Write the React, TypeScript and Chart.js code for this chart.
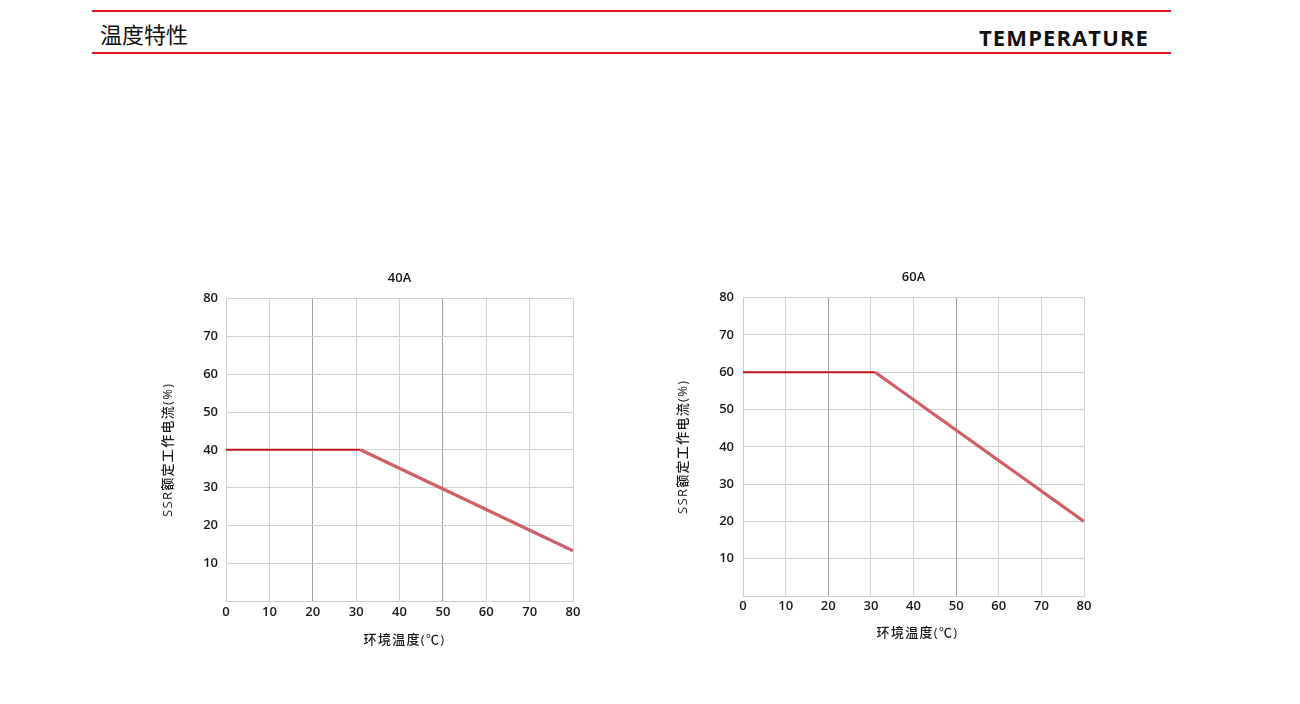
import React, { useEffect, useRef } from "react";
import { Chart, registerables } from "chart.js";

Chart.register(...registerables);

// ---- data ----
const temperatureTicks = [0, 10, 20, 30, 40, 50, 60, 70, 80];
const currentTicks = [10, 20, 30, 40, 50, 60, 70, 80];
const emphasisTemps = [20, 50];

const temps40 = [0, 31, 80];
const current40 = [40, 40, 13.3];
const temps60 = [0, 31, 80];
const current60 = [60, 60, 20];

const chartTitles = ["40A", "60A"];
const xAxisTitle = "环境温度(℃)";
const yAxisTitle = "SSR额定工作电流(%)";
const headerLeft = "温度特性";
const headerRight = "TEMPERATURE";

const FONT = "'Open Sans', 'Noto Sans CJK SC', sans-serif";
const TEXT = "#1a1a1a";

type Box = {
  left: number;
  top: number;
  width: number;
  height: number;
  yWidth: number;
  xHeight: number;
  padRight: number;
  yTitlePad: number;
  xTitlePad: number;
  xTickPad: number;
  yTickPad: number;
  xTitleShift: number;
};

// axis titles in the reference are set with a little tracking
function spaceTitle(s: any, dx: number) {
  if (s.__spaced) return;
  s.__spaced = true;
  const orig = s.drawTitle;
  s.drawTitle = function (...args: any[]) {
    const ctx = this.ctx;
    ctx.save();
    ctx.letterSpacing = "1.3px";
    ctx.translate(dx, 0);
    orig.apply(this, args);
    ctx.restore();
  };
}

function DeratingChart(props: { title: string; temps: number[]; values: number[]; box: Box }) {
  const ref = useRef<HTMLCanvasElement | null>(null);
  const { title, temps, values, box } = props;

  useEffect(() => {
    if (!ref.current) return;
    const points = temps.map((t, i) => ({ x: t, y: values[i] }));
    const chart = new Chart(ref.current, {
      type: "line",
      data: {
        datasets: [
          {
            data: points,
            pointRadius: 0,
            borderWidth: 2,
            borderColor: "#c0141b",
            segment: {
              borderColor: (c: any) => (c.p0DataIndex === 0 ? "#c0141b" : "#cf5f66"),
              borderWidth: (c: any) => (c.p0DataIndex === 0 ? 2 : 3.2),
            },
          },
          {
            data: points,
            pointRadius: 0,
            borderWidth: 1,
            borderColor: "rgba(0,0,0,0)",
            segment: {
              borderColor: (c: any) => (c.p0DataIndex === 0 ? "rgba(0,0,0,0)" : "#efaeb1"),
              borderWidth: (c: any) => (c.p0DataIndex === 0 ? 0 : 1.1),
            },
          },
        ],
      },
      options: {
        responsive: false,
        animation: false,
        devicePixelRatio: 1,
        layout: { padding: { left: 0, right: box.padRight, top: 0, bottom: 0 } },
        plugins: {
          legend: { display: false },
          tooltip: { enabled: false },
          title: {
            display: true,
            text: title,
            fullSize: false,
            color: TEXT,
            font: { family: FONT, size: 13, weight: "600" },
            padding: { top: 10, bottom: 13 },
          },
        },
        scales: {
          x: {
            type: "linear",
            min: 0,
            max: 80,
            afterBuildTicks: (s: any) => {
              s.ticks = temperatureTicks.map((v) => ({ value: v }));
            },
            afterFit: (s: any) => {
              s.height = box.xHeight;
              spaceTitle(s, box.xTitleShift);
            },
            ticks: {
              color: TEXT,
              font: { family: FONT, size: 13, weight: "600" },
              padding: box.xTickPad,
              maxRotation: 0,
            },
            grid: {
              drawTicks: false,
              lineWidth: 1,
              color: (c: any) =>
                c.tick && emphasisTemps.includes(c.tick.value) ? "#a0a0a0" : "#d2d2d2",
            },
            border: { color: "#cfcfcf", width: 1 },
            title: {
              display: true,
              text: xAxisTitle,
              color: TEXT,
              font: { family: FONT, size: 13, weight: "500" },
              padding: { top: 0, bottom: box.xTitlePad },
            },
          },
          y: {
            type: "linear",
            min: 0,
            max: 80,
            afterBuildTicks: (s: any) => {
              s.ticks = currentTicks.map((v) => ({ value: v }));
            },
            afterFit: (s: any) => {
              s.width = box.yWidth;
              spaceTitle(s, 0);
            },
            ticks: {
              color: TEXT,
              font: { family: FONT, size: 13, weight: "600" },
              padding: box.yTickPad,
            },
            grid: { drawTicks: false, lineWidth: 1, color: "#d2d2d2" },
            border: { color: "#cfcfcf", width: 1 },
            title: {
              display: true,
              text: yAxisTitle,
              color: TEXT,
              font: { family: FONT, size: 13, weight: "500" },
              padding: { top: box.yTitlePad, bottom: 0 },
            },
          },
        },
      },
    } as any);
    return () => chart.destroy();
  }, [title, temps, values, box]);

  return (
    <canvas
      ref={ref}
      width={box.width}
      height={box.height}
      style={{
        position: "absolute",
        left: box.left,
        top: box.top,
        width: box.width,
        height: box.height,
      }}
    />
  );
}

const box40: Box = {
  left: 150,
  top: 260,
  width: 440,
  height: 400,
  yWidth: 76,
  xHeight: 59,
  padRight: 17,
  yTitlePad: 10,
  xTitlePad: 12,
  xTickPad: 3,
  yTickPad: 8,
  xTitleShift: 5,
};

const box60: Box = {
  left: 667,
  top: 259,
  width: 440,
  height: 400,
  yWidth: 76,
  xHeight: 63,
  padRight: 23,
  yTitlePad: 8,
  xTitlePad: 18,
  xTickPad: 2,
  yTickPad: 9,
  xTitleShift: 4,
};

export default function App() {
  return (
    <div
      style={{
        position: "absolute",
        left: 0,
        top: 0,
        width: 1300,
        height: 704,
        background: "#fff",
        overflow: "hidden",
      }}
    >
      <div style={{ position: "absolute", left: 92, top: 10, width: 1079, height: 2, background: "#e3161e" }} />
      <div style={{ position: "absolute", left: 92, top: 52, width: 1079, height: 2, background: "#e3161e" }} />
      <div
        style={{
          position: "absolute",
          left: 100,
          top: 20,
          fontFamily: "'Noto Sans CJK SC', sans-serif",
          fontSize: 22,
          lineHeight: "26px",
          color: "#111",
          whiteSpace: "nowrap",
        }}
      >
        {headerLeft}
      </div>
      <div
        style={{
          position: "absolute",
          left: 800,
          width: 349,
          top: 22,
          textAlign: "right",
          fontFamily: "'Open Sans', sans-serif",
          fontWeight: 700,
          fontSize: 22,
          lineHeight: "30px",
          letterSpacing: "1.1px",
          color: "#111",
          whiteSpace: "nowrap",
        }}
      >
        {headerRight}
      </div>
      <DeratingChart title={chartTitles[0]} temps={temps40} values={current40} box={box40} />
      <DeratingChart title={chartTitles[1]} temps={temps60} values={current60} box={box60} />
    </div>
  );
}
